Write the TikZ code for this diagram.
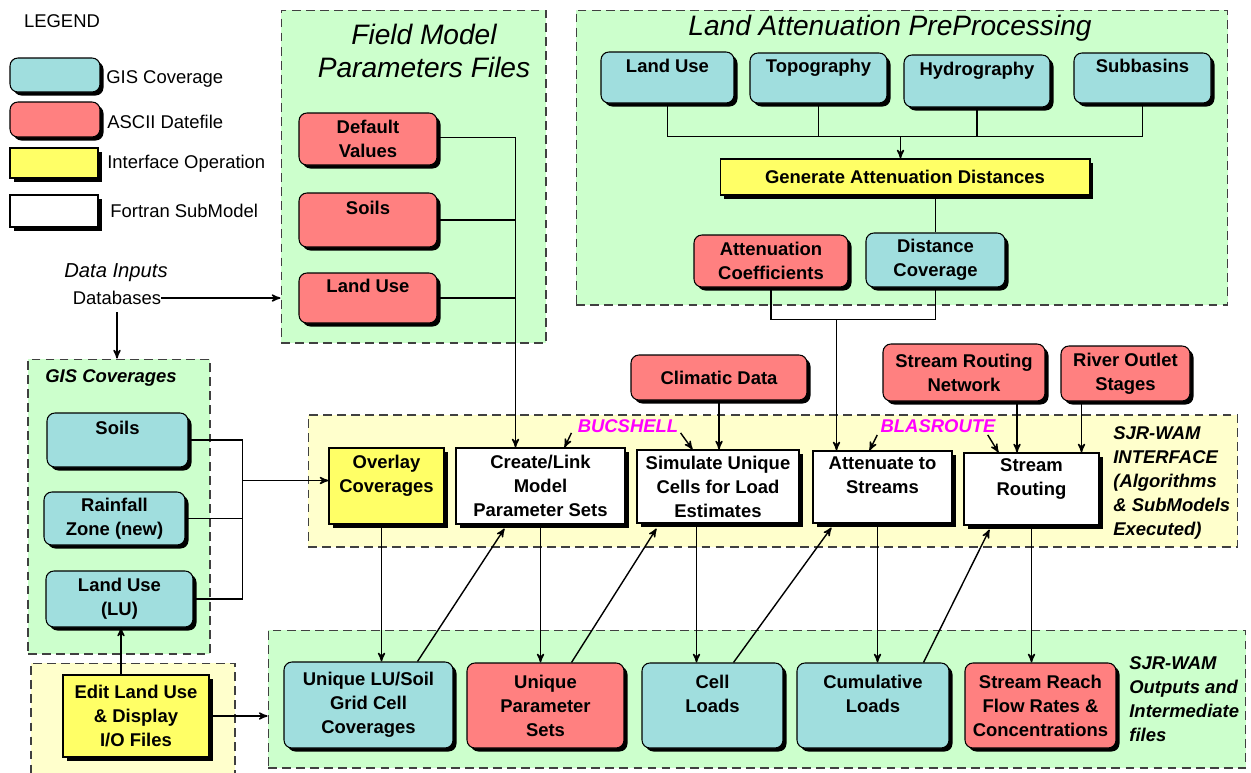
\documentclass[tikz,border=0pt]{standalone}
\usepackage{fontspec}
\setmainfont{Liberation Sans}
\usetikzlibrary{positioning, arrows, shadows, calc}
\definecolor{gisblue}{RGB}{160,222,222}
\definecolor{asciired}{RGB}{255,128,128}
\definecolor{opyellow}{RGB}{255,255,102}
\definecolor{grpgreen}{RGB}{204,255,204}
\definecolor{grpyellow}{RGB}{255,255,204}
\definecolor{progpink}{RGB}{255,0,255}
\newcommand{\boxfont}{\fontsize{10.5}{13.6}\selectfont\bfseries}
\tikzset{
        >=stealth', % small filled heads
        every node/.style={font=\fontsize{10.5}{13.6}\selectfont},
        wh/.style 2 args={minimum width=#1cm, minimum height=#2cm},
        base/.style={draw, line width=0.6pt, align=center, inner sep=2pt, font=\boxfont,
                drop shadow={shadow xshift=2pt, shadow yshift=-2pt, fill=black, opacity=1}},
        gis/.style={base, rounded corners=4.5pt, fill=gisblue},
        ascii/.style={base, rounded corners=4.5pt, fill=asciired},
        iface/.style={base, fill=opyellow},
        fortran/.style={base, fill=white},
        group/.style={draw=black!75, dash pattern=on 5pt off 3pt, line width=0.6pt, fill=grpgreen},
        bigtitle/.style={font=\fontsize{16}{18.7}\selectfont\itshape, align=center, inner sep=0pt},
        note/.style={font=\boxfont\itshape, align=left, inner sep=0pt},
        prog/.style={font=\boxfont\itshape, text=progpink, inner sep=0pt},
        wire/.style={line width=0.8pt}
        }

\begin{document}
\begin{tikzpicture}[x=0.02cm, y=-0.02cm]
        \useasboundingbox (0,0) rectangle (1251,772);
        % groups
        \node[group, wh={5.3}{6.66}] (fieldgrp) at (413.5,176.5) {};
        \node[group, wh={13.04}{5.9}] (attgrp) at (902,157.5) {};
        \node[group, wh={3.64}{5.9}] (gisgrp) at (119,506.5) {};
        \node[group, fill=grpyellow, wh={18.6}{2.64}] (ifacegrp) at (773,481) {};
        \node[group, fill=grpyellow, wh={4.08}{2.74}] (editgrp) at (133,731.5) {};
        \node[group, wh={19.56}{2.76}] (outgrp) at (757,699) {};
        \node[bigtitle] (fieldttl) at (424,51) {Field Model\\Parameters Files};
        \node[bigtitle] (attttl) at (890,28) {Land Attenuation PreProcessing};
        \node[note] (gisttl) at (111,378) {GIS Coverages};
        % legend
        \node[inner sep=0pt] (legend) at (62,21) {LEGEND};
        \node[gis, wh={1.8}{0.68}] (lgis) at (55,75) {};
        \node[ascii, wh={1.8}{0.7}] (lascii) at (55,119.5) {};
        \node[iface, wh={1.76}{0.6}] (liface) at (54,163) {};
        \node[fortran, wh={1.76}{0.64}] (lfort) at (54,211) {};
        \node[anchor=west, inner sep=0pt] (lgistxt) at (106,79) {GIS Coverage};
        \node[anchor=west, inner sep=0pt] (lasciitxt) at (107,122) {ASCII Datefile};
        \node[anchor=west, inner sep=0pt] (lifacetxt) at (107,164) {Interface Operation};
        \node[anchor=west, inner sep=0pt] (lforttxt) at (110,211) {Fortran SubModel};
        % inputs
        \node[font=\fontsize{11.5}{13}\selectfont\itshape, inner sep=0pt] (datain) at (116,273) {Data Inputs};
        \node[inner sep=0pt] (dbase) at (117,298) {Databases};
        \node[ascii, wh={2.76}{1.04}] (dflt) at (368,139) {Default\\Values};
        \node[ascii, wh={2.76}{1.08}] (fsoil) at (368,220) {Soils\\~};
        \node[ascii, wh={2.76}{1.0}] (fland) at (368,298) {Land Use\\~};
        \node[gis, wh={2.66}{1.02}] (aland) at (667.5,77.5) {Land Use\\~};
        \node[gis, wh={2.74}{1.0}] (atopo) at (818.5,78) {Topography\\~};
        \node[gis, wh={2.92}{1.04}] (ahydro) at (977,81) {Hydrography\\~};
        \node[gis, wh={2.74}{1.0}] (asub) at (1142.5,78) {Subbasins\\~};
        \node[iface, wh={7.4}{0.72}] (agen) at (905,177) {Generate Attenuation Distances};
        \node[ascii, wh={3.08}{1.04}] (acoef) at (771,261) {Attenuation\\Coefficients};
        \node[gis, wh={2.78}{1.08}] (adist) at (935.5,260) {Distance\\Coverage};
        \node[gis, wh={2.82}{1.08}] (gsoil) at (117.5,440) {Soils\\~};
        \node[gis, wh={2.82}{1.06}] (grain) at (114.5,518.5) {Rainfall\\Zone (new)};
        \node[gis, wh={2.94}{1.12}] (gland) at (119.5,599) {Land Use\\(LU)};
        \node[iface, wh={2.92}{1.64}] (edit) at (136,716) {Edit Land Use\\\& Display\\I/O Files};
        % interface
        \node[ascii, wh={3.52}{0.9}] (climatic) at (719,377.5) {Climatic Data};
        \node[ascii, wh={3.24}{1.14}] (srn) at (964,372.5) {Stream Routing\\Network};
        \node[ascii, wh={2.58}{1.1}] (ros) at (1125.5,373.5) {River Outlet\\Stages};
        \node[iface, wh={2.3}{1.52}] (overlay) at (386.5,486) {Overlay\\Coverages\\~};
        \node[fortran, wh={3.38}{1.52}] (link) at (540.5,486) {Create/Link\\Model\\Parameter Sets};
        \node[fortran, wh={3.24}{1.46}] (sim) at (718,486.5) {Simulate Unique\\Cells for Load\\Estimates};
        \node[fortran, wh={2.78}{1.44}] (atten) at (882.5,487) {Attenuate to\\Streams\\~};
        \node[fortran, wh={2.7}{1.44}] (route) at (1031.5,489) {Stream\\Routing\\~};
        \node[prog] (bucs) at (628,426) {BUCSHELL};
        \node[prog] (blas) at (938,426) {BLASROUTE};
        \node[note, anchor=west] (ifacenote) at (1113,483) {SJR-WAM\\INTERFACE\\(Algorithms\\\& SubModels\\Executed)};
        % outputs
        \node[gis, wh={3.38}{1.72}] (ulu) at (368.5,705) {Unique LU/Soil\\Grid Cell\\Coverages};
        \node[ascii, wh={3.14}{1.7}] (ups) at (545.5,705.5) {Unique\\Parameter\\Sets};
        \node[gis, wh={2.82}{1.7}] (cell) at (712.5,705.5) {Cell\\Loads\\~};
        \node[gis, wh={3.04}{1.7}] (cum) at (873,705.5) {Cumulative\\Loads\\~};
        \node[ascii, wh={3.02}{1.7}] (reach) at (1040.5,705.5) {Stream Reach\\Flow Rates \&\\Concentrations};
        \node[note, anchor=west] (outnote) at (1129,699) {SJR-WAM\\Outputs and\\Intermediate\\files};
        % connectors
        \coordinate (fbus) at (515.5,137.5);
        \coordinate (abus) at (900.5,136.5);
        \coordinate (cbus) at (836.5,319.5);
        \coordinate (gbus) at (242.5,480.5);
        \draw[wire,->] (dbase.east) -- (dbase.east -| fieldgrp.west);
        \draw[wire,->, shorten <=4pt] (dbase.south) -- (dbase.south |- gisgrp.north);
        \draw[wire] (dflt.east |- fbus) -- (fbus) (fsoil.east) -- (fsoil.east -| fbus) (fland.east) -- (fland.east -| fbus);
        \draw[wire,->] (fbus) -- (fbus |- link.north);
        \draw[wire] (aland.south) -- (aland.south |- abus) -- (asub.south |- abus) -- (asub.south)
              (atopo.south) -- (atopo.south |- abus) (ahydro.south) -- (ahydro.south |- abus);
        \draw[wire,->] (abus) -- (abus |- agen.north);
        \draw[wire] (agen.south -| adist.north) -- (adist.north);
        \draw[wire] (acoef.south) -- (acoef.south |- cbus) -- (adist.south |- cbus) -- (adist.south);
        \draw[wire,->] (cbus) -- (cbus |- atten.north);
        \draw[wire] (gsoil.east) -- (gsoil.east -| gbus) -- (gland.east -| gbus) -- (gland.east)
              (grain.east) -- (grain.east -| gbus);
        \draw[wire,->] (gbus) -- (gbus -| overlay.west);
        \draw[wire,->] ($(edit.north west)+(58.5,0)$) coordinate (e1) -- (e1 |- gland.south);
        \draw[wire,->] (edit.east) -- (edit.east -| outgrp.west);
        \draw[wire,->] (climatic.south) -- (climatic.south |- sim.north);
        \draw[wire,->] ($(srn.south)+(53,0)$) coordinate (s1) -- (s1 |- route.north);
        \draw[wire,->] ($(ros.south)+(-44,0)$) coordinate (s2) -- (s2 |- route.north);
        \draw[wire,->] ($(bucs.south west)+(-6,0)$) -- ($(link.north east)+(-61,0)$);
        \draw[wire,->] ($(bucs.south east)+(2,0)$) -- ($(sim.north west)+(56,0)$);
        \draw[wire,->] ($(blas.south west)+(-3,2)$) -- ($(atten.north west)+(57,0)$);
        \draw[wire,->] ($(blas.south east)+(-8,2)$) -- ($(route.north west)+(35,0)$);
        \draw[wire,->] ($(overlay.south)+(-5,0)$) coordinate (s4) -- (s4 |- ulu.north);
        \draw[wire,->] (link.south) -- (link.south |- ups.north);
        \draw[wire,->] ($(sim.south)+(-21.5,0)$) coordinate (s3) -- (s3 |- cell.north);
        \draw[wire,->] ($(atten.south)+(-5,0)$) coordinate (s5) -- (s5 |- cum.north);
        \draw[wire,->] (route.south) -- (route.south |- reach.north);
        \draw[wire,->] ($(ulu.north west)+(134,0)$) -- ($(link.south west)+(49,4)$);
        \draw[wire,->] ($(ups.north west)+(105,0)$) -- ($(sim.south west)+(20,5)$);
        \draw[wire,->] ($(cell.north west)+(92,0)$) -- ($(atten.south west)+(19,4)$);
        \draw[wire,->] ($(cum.north west)+(127,0)$) -- ($(route.south west)+(26,4)$);
\end{tikzpicture}
\end{document}
